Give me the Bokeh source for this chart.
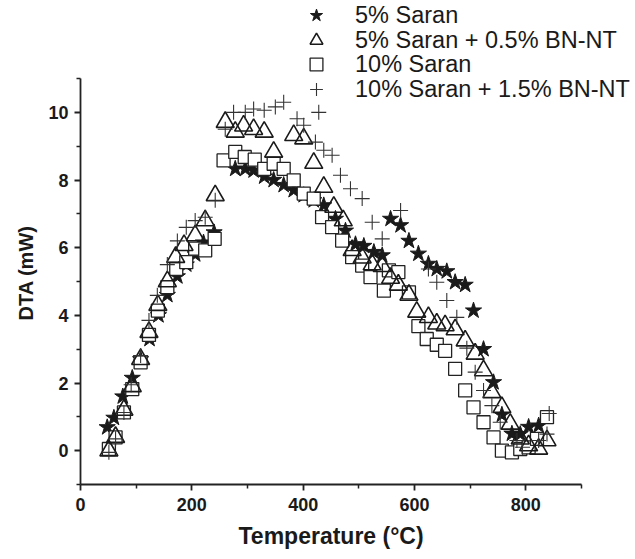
from bokeh.plotting import figure
from bokeh.models import Legend, LegendItem, Range1d, FixedTicker, Title
from bokeh.embed import file_html
from bokeh.resources import INLINE

# ---- data ----
t_star = [48, 60, 76, 93, 108, 124, 140, 156, 174, 190, 206, 221, 240, 278, 296, 311, 330, 347,
          365, 383, 401, 419, 437, 458, 476, 494, 509, 527, 542, 557, 575, 590, 607, 625, 640,
          658, 673, 691, 706, 724, 742, 757, 775, 790, 805, 823]
d_star = [0.69, 0.97, 1.6, 2.15, 2.7, 3.3, 4.0, 4.6, 5.15, 5.5, 5.8, 6.15, 6.45, 8.33, 8.33, 8.28,
          8.1, 8.0, 7.85, 7.7, 7.55, 7.4, 7.25, 6.85, 6.5, 6.1, 6.05, 5.87, 5.77, 6.85, 6.66, 6.2,
          5.82, 5.52, 5.37, 5.3, 4.98, 4.9, 4.14, 3.0, 2.02, 1.06, 0.5, 0.49, 0.7, 0.74]

t_tri = [51, 63, 78, 93, 108, 123, 139, 156, 171, 186, 206, 224, 242, 260, 278, 293, 311, 330,
         347, 383, 401, 419, 437, 455, 472, 488, 506, 524, 542, 557, 571, 590, 604, 625, 640,
         655, 673, 691, 709, 724, 739, 757, 772, 790, 805, 823, 838]
d_tri = [0.0, 0.4, 1.2, 1.9, 2.7, 3.5, 4.3, 5.0, 5.72, 6.07, 6.36, 6.8, 7.54, 9.71, 9.42, 9.6,
         9.5, 9.42, 8.83, 9.32, 9.22, 8.5, 7.79, 7.2, 6.8, 5.92, 5.7, 5.5, 5.45, 5.1, 4.9, 4.6,
         4.1, 3.94, 3.75, 3.7, 3.58, 3.25, 2.86, 2.37, 1.72, 1.28, 0.79, 0.35, 0.15, 0.05, 0.3]

t_sq = [51, 63, 78, 93, 108, 123, 139, 156, 172, 190, 206, 224, 241, 257, 278, 295, 313, 330,
        347, 365, 383, 401, 419, 434, 452, 470, 488, 506, 521, 545, 554, 571, 590, 607, 622,
        640, 655, 673, 691, 706, 724, 742, 757, 775, 790, 805, 820, 838]
d_sq = [0.05, 0.39, 1.13, 1.82, 2.61, 3.42, 4.14, 4.83, 5.37, 5.57, 5.97, 5.92, 6.26, 8.58,
        8.83, 8.68, 8.6, 8.33, 8.48, 8.33, 7.99, 7.6, 7.45, 6.9, 6.61, 6.21, 5.72, 5.47, 5.13,
        4.73, 5.33, 5.28, 4.68, 3.68, 3.3, 3.13, 2.95, 2.42, 1.78, 1.28, 0.84, 0.39, 0.0, -0.05,
        0.05, 0.1, 0.35, 0.99]

t_plus = [51, 63, 78, 91, 108, 123, 138, 156, 174, 190, 206, 224, 242, 260, 275, 296, 311, 330,
          350, 365, 389, 401, 422, 428, 437, 452, 467, 485, 506, 524, 542, 575, 625, 640, 658,
          676, 694, 709, 724, 739, 754, 784, 794, 823, 838, 842]
d_plus = [-0.05, 0.35, 1.13, 1.95, 2.81, 3.85, 4.59, 5.5, 6.2, 6.6, 6.8, 6.9, 7.4, 9.5, 10.0,
          10.0, 10.1, 10.06, 10.16, 10.3, 9.81, 9.62, 9.12, 10.0, 8.88, 8.73, 8.14, 7.74, 7.45,
          6.75, 6.26, 7.1, 5.37, 4.98, 4.44, 3.94, 3.03, 2.32, 1.78, 1.33, 0.84, 0.3, 0.1, 0.3,
          0.49, 1.1]

labels = ["5% Saran", "5% Saran + 0.5% BN-NT", "10% Saran", "10% Saran + 1.5% BN-NT"]
x_ticks = [0, 200, 400, 600, 800]
y_ticks = [0, 2, 4, 6, 8, 10]
x_axis_span = (0, 900)
y_axis_span = (-1, 11)
x_title = "Temperature (°C)"
y_title = "DTA (mW)"

FONT = "Liberation Sans"
W, H = 635, 559
LEFT, BOTTOM = 80, 75
AX_RIGHT_PX, AX_TOP_PX = 581, 78          # where the drawn axes end
frame_w, frame_h = W - LEFT, H - BOTTOM
x_hi = x_axis_span[0] + (x_axis_span[1] - x_axis_span[0]) * frame_w / (AX_RIGHT_PX - LEFT)
y_hi = y_axis_span[0] + (y_axis_span[1] - y_axis_span[0]) * frame_h / (frame_h - AX_TOP_PX)

p = figure(width=W, height=H, output_backend="svg", toolbar_location=None,
           x_range=Range1d(x_axis_span[0], x_hi), y_range=Range1d(y_axis_span[0], y_hi),
           min_border_left=LEFT, min_border_right=0, min_border_top=0, min_border_bottom=BOTTOM)
p.outline_line_color = None
p.grid.visible = False
p.background_fill_color = "white"

r_star = p.scatter(t_star, d_star, marker="star", size=17, fill_color="#1a1a1a",
                   line_color="#1a1a1a", line_width=1)
r_sq = p.scatter(t_sq, d_sq, marker="square", size=13, fill_color="white",
                 line_color="#222222", line_width=1.3)
r_tri = p.scatter(t_tri, d_tri, marker="triangle", size=18, fill_color=None,
                  line_color="#1a1a1a", line_width=1.6)
r_plus = p.scatter(t_plus, d_plus, marker="cross", size=15, line_color="#333333",
                   line_width=1.1)

for ax in (p.xaxis[0], p.yaxis[0]):
    ax.axis_line_color = "#222222"
    ax.axis_line_width = 1.8
    ax.major_tick_line_width = 1.8
    ax.minor_tick_line_width = 1.5
    ax.major_tick_line_color = "#222222"
    ax.minor_tick_line_color = "#222222"
    ax.major_tick_out = 6
    ax.major_tick_in = 0
    ax.minor_tick_out = 4
    ax.minor_tick_in = 0
    ax.major_label_text_font = FONT
    ax.major_label_text_font_style = "bold"
    ax.major_label_text_font_size = "18px"
    ax.major_label_text_color = "#1a1a1a"

p.xaxis[0].bounds = x_axis_span
p.yaxis[0].bounds = y_axis_span
p.xaxis[0].ticker = FixedTicker(ticks=x_ticks, minor_ticks=[100, 300, 500, 700, 900])
p.yaxis[0].ticker = FixedTicker(ticks=y_ticks, minor_ticks=[-1, 1, 3, 5, 7, 9, 11])
p.xaxis[0].major_label_standoff = 7
p.yaxis[0].major_label_standoff = 6

# axis titles placed relative to the drawn axes (frame is wider/taller for the legend)
p.add_layout(Title(text=x_title, align="left", offset=158, vertical_align="bottom", standoff=14,
                   text_font=FONT, text_font_style="bold", text_font_size="23px",
                   text_color="#1a1a1a"), "below")
p.add_layout(Title(text=y_title, align="left", offset=164, vertical_align="bottom", standoff=18,
                   text_font=FONT, text_font_style="bold", text_font_size="20px",
                   text_color="#1a1a1a"), "left")

# one legend per entry so the rows can sit 24.5 px apart with large glyphs
GLYPH = 32
row_centers = [15, 40, 64, 89]
for lab, rend, yc in zip(labels, [r_star, r_tri, r_sq, r_plus], row_centers):
    lg = Legend(items=[LegendItem(label=lab, renderers=[rend])],
                location=(300 - LEFT, frame_h - (yc + GLYPH / 2)),
                padding=0, margin=0, spacing=0,
                glyph_width=GLYPH, glyph_height=GLYPH, label_height=GLYPH, label_standoff=23,
                label_text_font=FONT, label_text_font_size="23.5px", label_text_color="#1a1a1a",
                border_line_color=None, background_fill_alpha=0)
    p.add_layout(lg, "center")

open("out.html", "w").write(file_html(p, INLINE))
